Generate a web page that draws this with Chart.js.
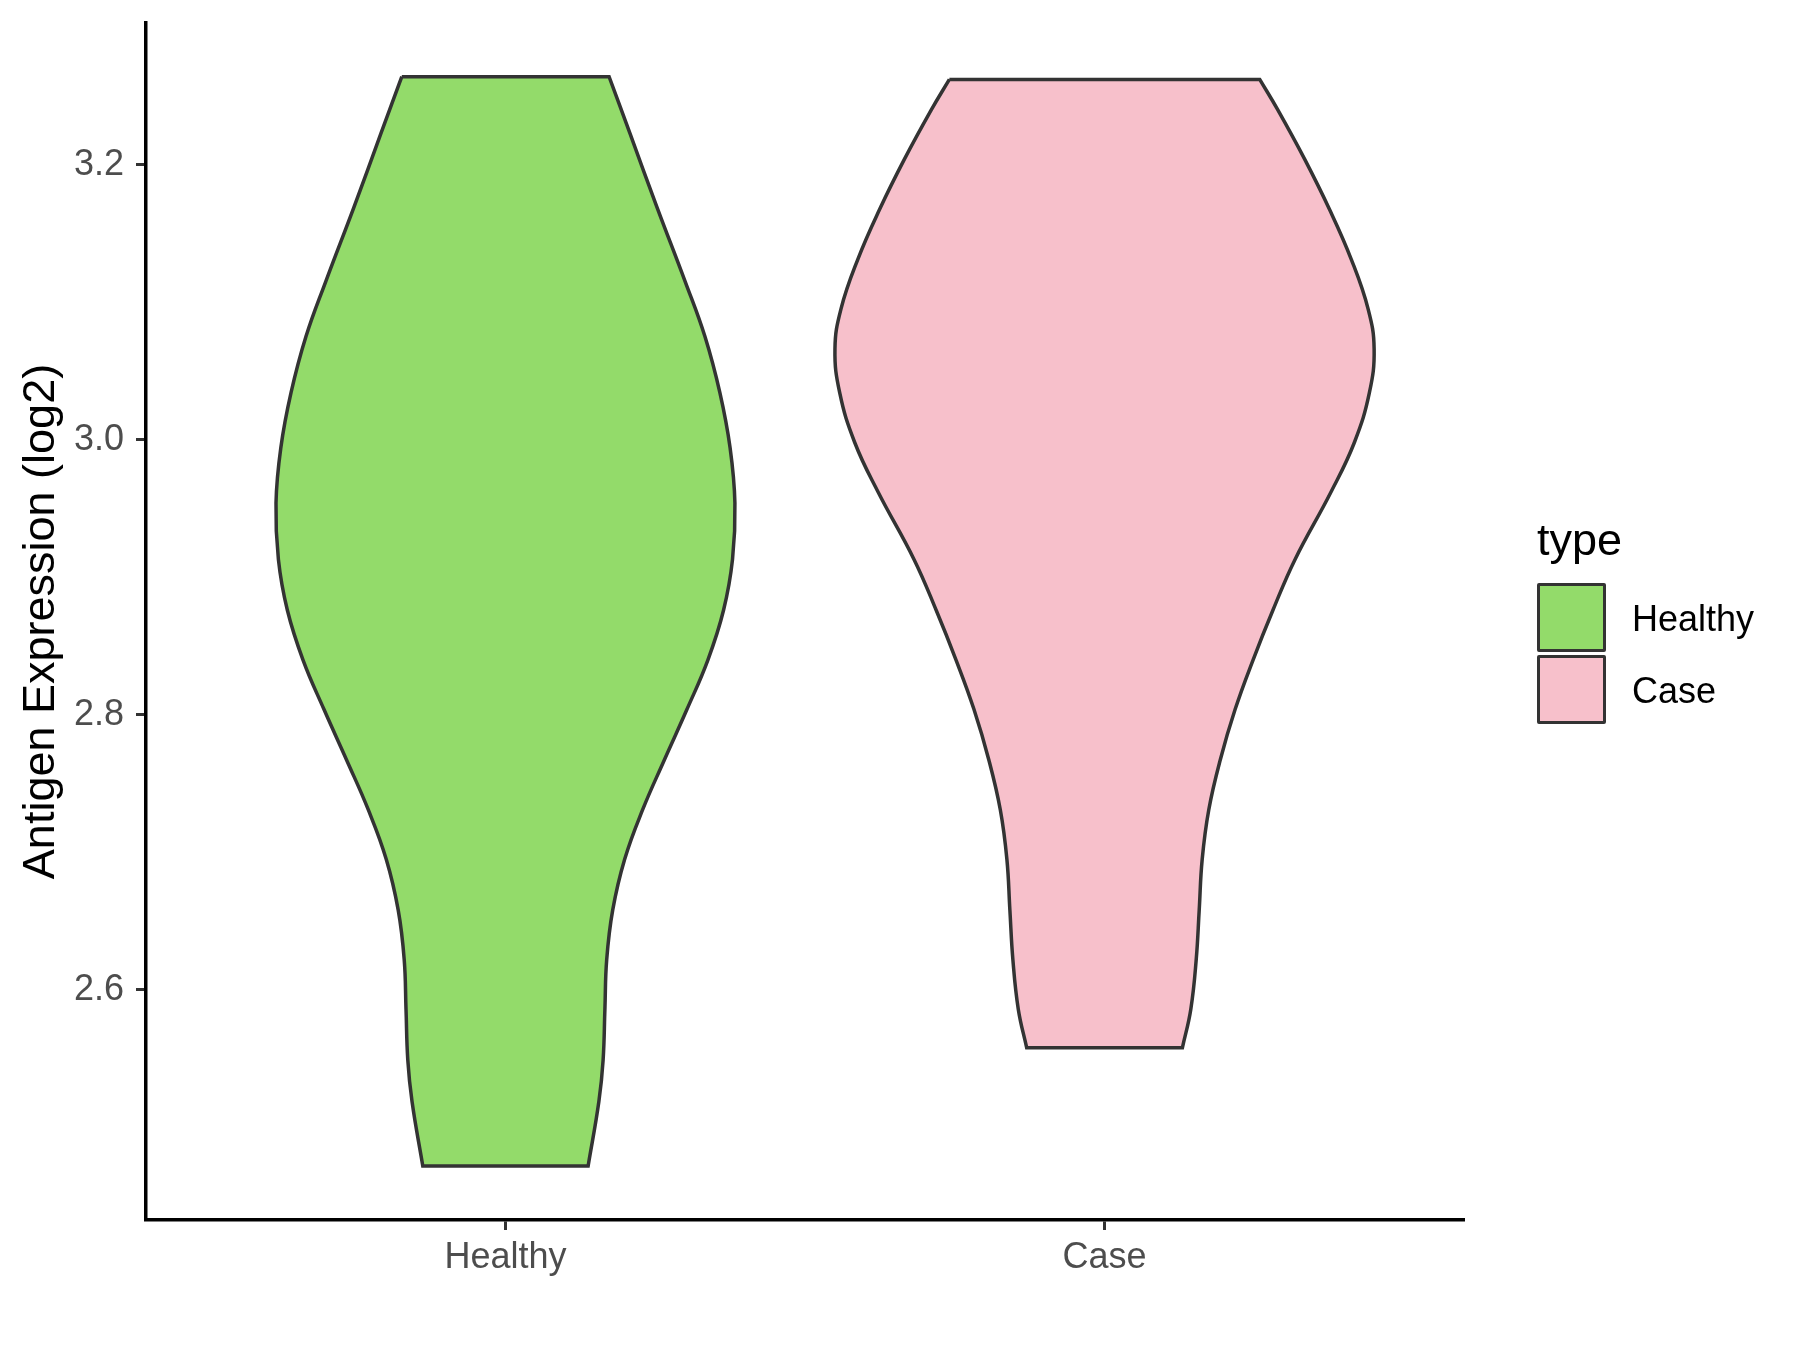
<!DOCTYPE html>
<html>
<head>
<meta charset="utf-8">
<script src="https://cdn.jsdelivr.net/npm/chart.js@4.4.1/dist/chart.umd.min.js"></script>
<style>
  html, body { margin: 0; padding: 0; background: #fff; }
  #wrap { position: relative; width: 1800px; height: 1350px; font-family: "Liberation Sans", Arial, sans-serif; }
  #violinChart { position: absolute; left: 0; top: 0; }
  .lg { position: absolute; color: #000; white-space: nowrap; }
  .key { position: absolute; box-sizing: border-box; border: 3px solid #333; border-radius: 2px; }
</style>
</head>
<body>
<div id="wrap">
  <canvas id="violinChart" width="1800" height="1350"></canvas>
</div>
<script>
// groups on the x axis
const categories = ["Healthy", "Case"];
const yTicks = [2.6, 2.8, 3.0, 3.2];

// violin outlines: expression value and half width (in category units)
const healthyY     = [3.264, 3.2225, 3.169, 3.115, 3.075, 3.034, 2.994, 2.954, 2.913, 2.876, 2.840, 2.804, 2.767, 2.731, 2.695, 2.658, 2.622, 2.586, 2.549, 2.519, 2.472];
const healthyWidth = [0.173, 0.208, 0.253, 0.300, 0.333, 0.358, 0.375, 0.383, 0.379, 0.364, 0.338, 0.303, 0.265, 0.229, 0.199, 0.179, 0.169, 0.166, 0.163, 0.156, 0.138];
const caseY        = [3.262, 3.240, 3.204, 3.167, 3.131, 3.095, 3.066, 3.034, 2.998, 2.962, 2.913, 2.876, 2.840, 2.804, 2.767, 2.731, 2.695, 2.658, 2.622, 2.586, 2.558];
const caseWidth    = [0.259, 0.289, 0.334, 0.376, 0.412, 0.440, 0.450, 0.442, 0.417, 0.378, 0.318, 0.281, 0.248, 0.218, 0.193, 0.174, 0.163, 0.158, 0.153, 0.144, 0.130];

const fills = ["#93DB6A", "#F7C0CB"];
const FONT = '"Liberation Sans", Arial, sans-serif';

// left side top->bottom, right side bottom->top; corners doubled so they stay sharp
function violinOutline(center, ys, ws) {
  const n = ys.length;
  const left = ys.map((y, i) => ({ x: center - ws[i], y: y }));
  const right = ys.map((y, i) => ({ x: center + ws[i], y: y })).reverse();
  return [left[0], ...left, left[n - 1], right[0], ...right, right[n - 1], left[0]];
}

const shapes = [
  violinOutline(1, healthyY, healthyWidth),
  violinOutline(2, caseY, caseWidth)
];

const ctx = document.getElementById("violinChart");

const chart = new Chart(ctx, {
  type: "line",
  data: {
    datasets: categories.map((name, i) => ({
      label: name,
      data: shapes[i],
      backgroundColor: fills[i],
      borderColor: "#333333",
      borderWidth: 3.5,
      fill: "shape",
      tension: 0.42,
      pointRadius: 0,
      pointHoverRadius: 0
    }))
  },
  options: {
    responsive: false,
    animation: false,
    events: [],
    layout: { autoPadding: false, padding: { left: 0, right: 336, top: 23, bottom: 0 } },
    plugins: { legend: { display: false }, tooltip: { enabled: false } },
    scales: {
      x: {
        type: "linear",
        min: 0.4,
        max: 2.6,
        afterBuildTicks: (s) => { s.ticks = categories.map((c, i) => ({ value: i + 1 })); },
        afterFit: (s) => { s.height = 130; s.paddingLeft = 0; s.paddingRight = 0; },
        ticks: {
          callback: (v) => categories[v - 1],
          color: "#4D4D4D",
          font: { family: FONT, size: 36 },
          padding: 6,
          maxRotation: 0
        },
        grid: { display: true, drawOnChartArea: false, drawTicks: true, tickLength: 10, tickColor: "#333333", tickWidth: 3 },
        border: { display: true, color: "#000000", width: 3.5 }
      },
      y: {
        type: "linear",
        min: 2.4327,
        max: 3.303,
        afterBuildTicks: (s) => { s.ticks = yTicks.map(v => ({ value: v })); },
        afterFit: (s) => { s.width = 146; s.paddingTop = 0; s.paddingBottom = 0; },
        ticks: {
          callback: (v) => Number(v).toFixed(1),
          color: "#4D4D4D",
          font: { family: FONT, size: 36 },
          padding: 12
        },
        grid: { display: true, drawOnChartArea: false, drawTicks: true, tickLength: 10, tickColor: "#333333", tickWidth: 3 },
        border: { display: true, color: "#000000", width: 3.5 },
        title: {
          display: true,
          text: "Antigen Expression (log2)",
          color: "#000000",
          font: { family: FONT, size: 45 },
          padding: { top: 15, bottom: 0 }
        }
      }
    }
  }
});

// ggplot style legend on the right
const wrap = document.getElementById("wrap");
const title = document.createElement("div");
title.className = "lg";
title.textContent = "type";
title.style.cssText = "left:1537px;top:517px;font-size:45px;line-height:45px;";
wrap.appendChild(title);

categories.forEach((name, i) => {
  const top = 583 + i * 72;
  const key = document.createElement("div");
  key.className = "key";
  key.style.cssText = `left:1537px;top:${top}px;width:69px;height:69px;background:${fills[i]};`;
  wrap.appendChild(key);
  const lab = document.createElement("div");
  lab.className = "lg";
  lab.textContent = name;
  lab.style.cssText = `left:1632px;top:${top + 18}px;font-size:36px;line-height:36px;`;
  wrap.appendChild(lab);
});
</script>
</body>
</html>
